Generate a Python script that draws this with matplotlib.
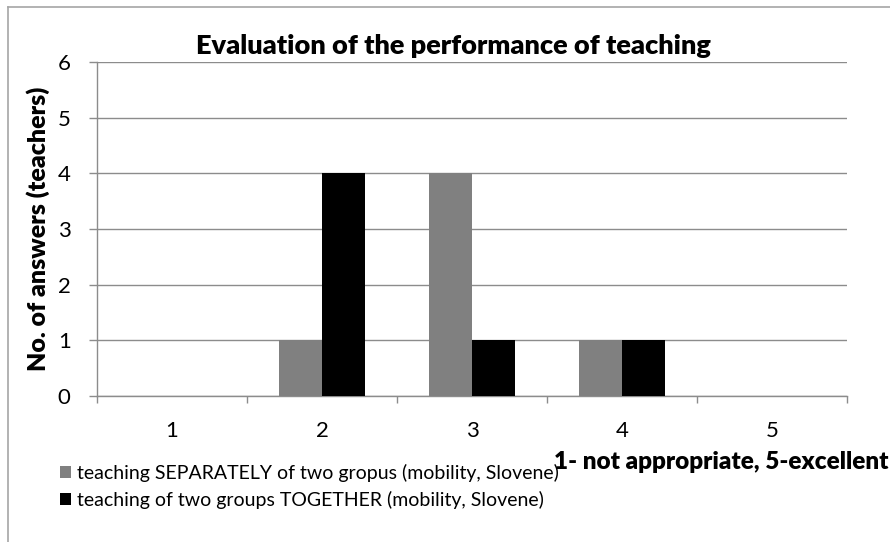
import matplotlib.pyplot as plt
from matplotlib.lines import Line2D
from matplotlib.patches import Patch
import numpy as np

plt.rcParams['font.family'] = ['Lato', 'DejaVu Sans']

# data
grades = ['1', '2', '3', '4', '5']
separately = [0, 1, 4, 1, 0]
together = [0, 4, 1, 1, 0]
series_labels = [
    'teaching SEPARATELY of two gropus (mobility, Slovene)',
    'teaching of two groups TOGETHER (mobility, Slovene)',
]
title = 'Evaluation of the performance of teaching'
ylabel = 'No. of answers (teachers)'
xlabel = '1- not appropriate, 5-excellent'

W, H = 890, 542
fig = plt.figure(figsize=(W / 100, H / 100), dpi=100)
ax = fig.add_axes([97 / W, 1 - 396 / H, (847 - 97) / W, (396 - 62) / H])

grid_col = '#8c8c8c'
x = np.arange(len(grades))
width = 1 / 3.5
ax.bar(x - width / 2, separately, width, color='#808080', zorder=3)
ax.bar(x + width / 2, together, width, color='#000000', zorder=3)

ax.set_xlim(-0.5, len(grades) - 0.5)
ax.set_ylim(0, 6)
ax.set_yticks(range(0, 7))
ax.yaxis.grid(True, color=grid_col, linewidth=1, zorder=0)
ax.tick_params(axis='y', length=6, width=1, color=grid_col, pad=13, labelsize=16)

# category boundary ticks, labels at centers
ax.set_xticks(np.arange(-0.5, len(grades)), labels=[''] * (len(grades) + 1))
ax.set_xticks(x, labels=grades, minor=True)
ax.tick_params(axis='x', which='major', length=5, width=1, color=grid_col, direction='out')
ax.tick_params(axis='x', which='minor', length=0, pad=18, labelsize=16)

for side in ['top', 'right']:
    ax.spines[side].set_visible(False)
for side in ['left', 'bottom']:
    ax.spines[side].set_color(grid_col)
    ax.spines[side].set_linewidth(1)

fig.text(453 / W, 1 - 46 / H, title, ha='center', va='center', fontsize=19.5, fontweight='heavy')
fig.text(38 / W, 1 - 229 / H, ylabel, ha='center', va='center', rotation=90,
         fontsize=18, fontweight='heavy')
fig.text(889 / W, 1 - 462 / H, xlabel, ha='right', va='center', fontsize=17.5, fontweight='heavy')

handles = [Patch(facecolor='#808080'), Patch(facecolor='#000000')]
fig.legend(handles, series_labels, loc='upper left', bbox_to_anchor=(60 / W, 1 - 464 / H),
           frameon=False, fontsize=14, handlelength=0.55, handleheight=0.55,
           handletextpad=0.3, labelspacing=0.45, borderaxespad=0, borderpad=0)

# chart area border (only left and top visible)
frame_col = '#a6a6a6'
fig.add_artist(Line2D([8 / W, 8 / W], [0, 1 - 7 / H], color=frame_col, linewidth=1.2))
fig.add_artist(Line2D([8 / W, 1], [1 - 7 / H, 1 - 7 / H], color=frame_col, linewidth=1.2))

fig.savefig('out.png', dpi=100)
